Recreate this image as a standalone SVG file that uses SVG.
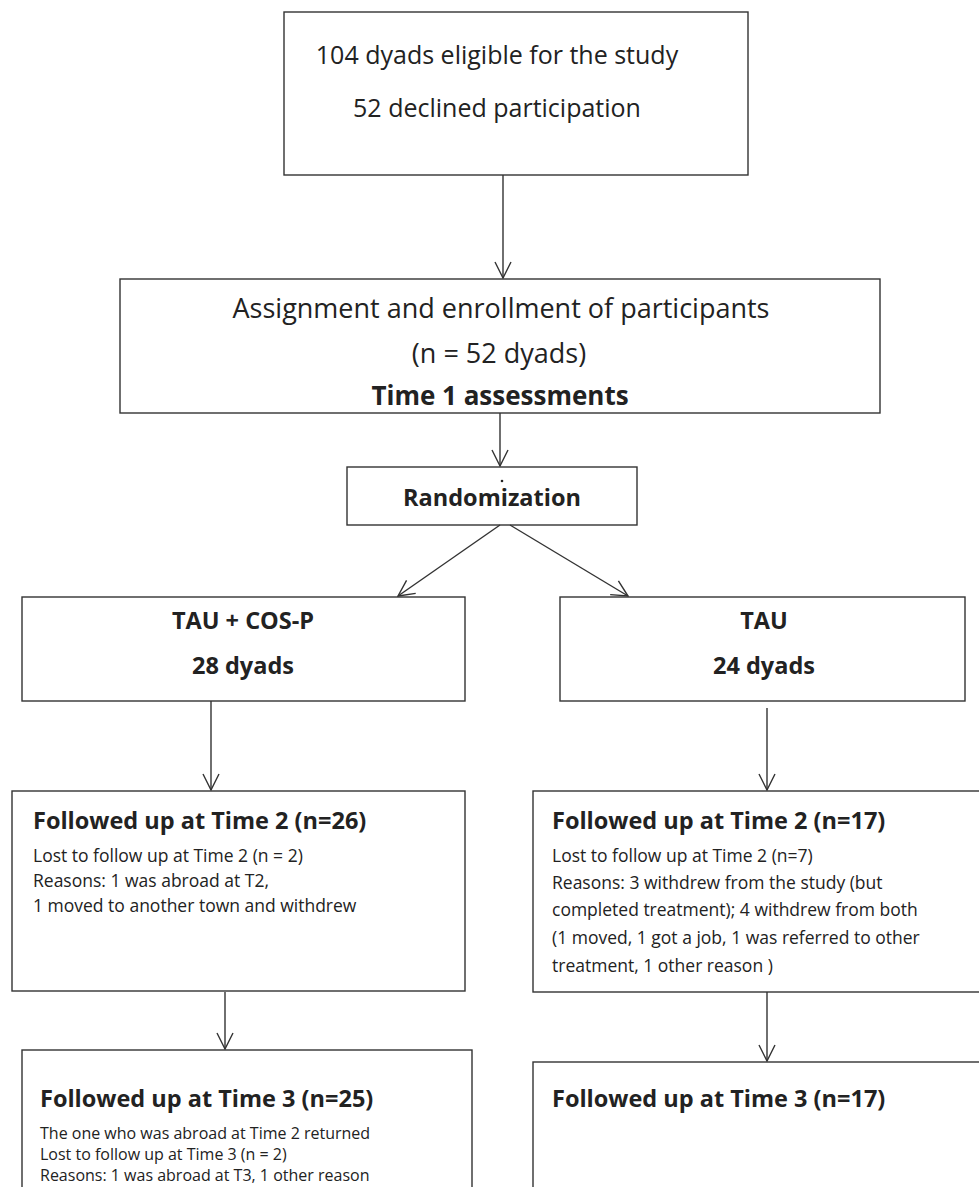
<svg xmlns="http://www.w3.org/2000/svg" width="979" height="1187" viewBox="0 0 979 1187">
<style>
.box{fill:#fff;stroke:#333;stroke-width:1.4}
.t{font-family:"Open Sans","Liberation Sans",sans-serif;fill:#222}
.big{font-size:25px;text-anchor:middle}
.big2{font-size:27px;text-anchor:middle}
.bigb{font-size:23.5px;font-weight:bold;text-anchor:middle}
.ttl{font-size:23.5px;font-weight:bold}
.sm{font-size:17.5px}
.sm3{font-size:16px}
.con line{stroke:#333;stroke-width:1.4;marker-end:url(#ah)}
</style>
<defs>
<marker id="ah" viewBox="0 0 20 20" refX="19" refY="10" markerWidth="20" markerHeight="20" markerUnits="userSpaceOnUse" orient="auto">
<polyline points="3,2 19,10 3,18" fill="none" stroke="#333" stroke-width="1.4"/>
</marker>
</defs>
<rect width="979" height="1187" fill="#fff"/>
<g id="eligible">
<rect class="box" x="284" y="12" width="464" height="163"/>
<text class="t big" x="497" y="64">104 dyads eligible for the study</text>
<text class="t big" x="497" y="117">52 declined participation</text>
</g>
<g id="enrollment">
<rect class="box" x="120" y="279" width="760" height="134"/>
<text class="t big2" x="501" y="318">Assignment and enrollment of participants</text>
<text class="t big2" x="499" y="363">(n = 52 dyads)</text>
<text class="t bigb" x="500" y="405" style="font-size:26px">Time 1 assessments</text>
</g>
<g id="randomization">
<rect class="box" x="347" y="467" width="290" height="58"/>
<circle cx="502" cy="481" r="1.3" fill="#222"/>
<text class="t bigb" x="492" y="506">Randomization</text>
</g>
<g id="cosp">
<rect class="box" x="22" y="597" width="443" height="104"/>
<text class="t bigb" x="243" y="629">TAU + COS-P</text>
<text class="t bigb" x="243" y="674">28 dyads</text>
</g>
<g id="tau">
<rect class="box" x="560" y="597" width="405" height="104"/>
<text class="t bigb" x="764" y="629">TAU</text>
<text class="t bigb" x="764" y="674">24 dyads</text>
</g>
<g id="cosp-t2">
<rect class="box" x="12" y="791" width="453" height="200"/>
<text class="t ttl" x="33" y="829">Followed up at Time 2 (n=26)</text>
<text class="t sm" x="33" y="862">Lost to follow up at Time 2 (n = 2)</text>
<text class="t sm" x="33" y="887">Reasons: 1 was abroad at T2,</text>
<text class="t sm" x="33" y="912">1 moved to another town and withdrew</text>
</g>
<g id="tau-t2">
<rect class="box" x="533" y="791" width="460" height="201"/>
<text class="t ttl" x="552" y="829">Followed up at Time 2 (n=17)</text>
<text class="t sm" x="552" y="862">Lost to follow up at Time 2 (n=7)</text>
<text class="t sm" x="552" y="889">Reasons: 3 withdrew from the study (but</text>
<text class="t sm" x="552" y="916">completed treatment); 4 withdrew from both</text>
<text class="t sm" x="552" y="944">(1 moved, 1 got a job, 1 was referred to other</text>
<text class="t sm" x="552" y="972">treatment, 1 other reason )</text>
</g>
<g id="cosp-t3">
<rect class="box" x="22" y="1050" width="450" height="160"/>
<text class="t ttl" x="40" y="1107">Followed up at Time 3 (n=25)</text>
<text class="t sm3" x="40" y="1139">The one who was abroad at Time 2 returned</text>
<text class="t sm3" x="40" y="1160">Lost to follow up at Time 3 (n = 2)</text>
<text class="t sm3" x="40" y="1181">Reasons: 1 was abroad at T3, 1 other reason</text>
</g>
<g id="tau-t3">
<rect class="box" x="533" y="1062" width="460" height="150"/>
<text class="t ttl" x="552" y="1107">Followed up at Time 3 (n=17)</text>
</g>
<g class="con" id="connectors">
<line x1="503" y1="175" x2="503" y2="278"/>
<line x1="500" y1="413" x2="500" y2="466"/>
<line x1="500" y1="525" x2="398" y2="596"/>
<line x1="510" y1="525" x2="628" y2="596"/>
<line x1="211" y1="701" x2="211" y2="790"/>
<line x1="767" y1="708" x2="767" y2="790"/>
<line x1="225" y1="992" x2="225" y2="1049"/>
<line x1="767" y1="992" x2="767" y2="1061"/>
</g>
</svg>
